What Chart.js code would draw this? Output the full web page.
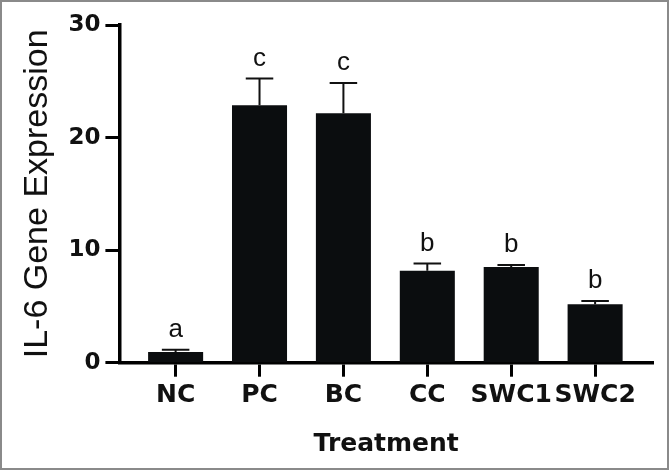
<!DOCTYPE html>
<html>
<head>
<meta charset="utf-8">
<script src="https://cdn.jsdelivr.net/npm/chart.js@4"></script>
<style>
    body { margin: 0; background: #fff; }
    #wrap { position: relative; width: 669px; height: 470px; }
    #frame { position: absolute; left: 0; top: 0; width: 665px; height: 466px; border: 2px solid #8a8a8a; pointer-events: none; }
</style>
</head>
<body>
<div id="wrap">
    <canvas id="il6Chart" width="669" height="470"></canvas>
    <div id="frame"></div>
</div>
<script>
// Данные графика
const categories = ['NC', 'PC', 'BC', 'CC', 'SWC1', 'SWC2'];
const values = [0.96, 22.88, 22.17, 8.16, 8.51, 5.19];
const errors = [0.2, 2.36, 2.68, 0.65, 0.18, 0.29];
const letters = ['a', 'c', 'c', 'b', 'b', 'b'];
const yTicks = [0, 10, 20, 30];

// Плагин для планок погрешностей и букв над столбцами
const errorBarsPlugin = {
    id: 'errorBars',
    afterDatasetsDraw(chart) {
        const ctx = chart.ctx;
        const meta = chart.getDatasetMeta(0);
        const yScale = chart.scales.y;
        ctx.save();
        meta.data.forEach((bar, i) => {
            const yTop = yScale.getPixelForValue(values[i]);
            const yErr = yScale.getPixelForValue(values[i] + errors[i]);
            const half = bar.width / 4;
            ctx.strokeStyle = '#111';
            ctx.lineWidth = 2;
            ctx.beginPath();
            ctx.moveTo(bar.x, yTop);
            ctx.lineTo(bar.x, yErr);
            ctx.moveTo(bar.x - half, yErr);
            ctx.lineTo(bar.x + half, yErr);
            ctx.stroke();
            ctx.fillStyle = '#111';
            ctx.font = '26px "Liberation Sans", Arial, sans-serif';
            ctx.textAlign = 'center';
            ctx.textBaseline = 'alphabetic';
            ctx.fillText(letters[i], bar.x, yErr - 13);
        });
        ctx.restore();
    }
};

document.addEventListener('DOMContentLoaded', function() {
    const ctx = document.getElementById('il6Chart');
    new Chart(ctx, {
        type: 'bar',
        data: {
            datasets: [{
                data: categories.map((c, i) => ({ x: i, y: values[i] })),
                backgroundColor: '#0b0d0f',
                borderWidth: 0,
                categoryPercentage: 1,
                barPercentage: 0.656
            }]
        },
        options: {
            responsive: false,
            animation: false,
            layout: { padding: { left: 0, right: 16, top: 25, bottom: 0 } },
            plugins: {
                legend: { display: false },
                tooltip: { enabled: false }
            },
            scales: {
                x: {
                    type: 'linear',
                    min: -0.67,
                    max: 5.69,
                    offset: false,
                    afterBuildTicks: axis => {
                        axis.ticks = categories.map((c, i) => ({ value: i }));
                    },
                    border: { display: true, color: '#000', width: 3.5 },
                    grid: {
                        offset: false,
                        drawOnChartArea: false,
                        drawTicks: true,
                        tickLength: 14,
                        tickWidth: 3,
                        tickColor: '#000'
                    },
                    ticks: {
                        autoSkip: false,
                        maxRotation: 0,
                        padding: 4,
                        color: '#111',
                        font: { family: '"DejaVu Sans"', size: 25, weight: 'bold' },
                        callback: v => categories[v]
                    },
                    title: {
                        display: true,
                        text: 'Treatment',
                        color: '#111',
                        font: { family: '"DejaVu Sans"', size: 25, weight: 'bold' },
                        padding: { top: 14.3, bottom: 11 }
                    }
                },
                y: {
                    min: 0,
                    max: 30,
                    afterBuildTicks: axis => {
                        axis.ticks = yTicks.map(v => ({ value: v }));
                    },
                    border: { display: true, color: '#000', width: 3.5 },
                    grid: {
                        drawOnChartArea: false,
                        drawTicks: true,
                        tickLength: 14,
                        tickWidth: 3,
                        tickColor: '#000'
                    },
                    ticks: {
                        padding: 5,
                        color: '#111',
                        font: { family: '"DejaVu Sans"', size: 23, weight: 'bold' }
                    },
                    title: {
                        display: true,
                        text: 'IL-6 Gene Expression',
                        color: '#111',
                        font: { family: '"Liberation Sans"', size: 34 },
                        padding: { top: 17, bottom: 5.6 }
                    }
                }
            }
        },
        plugins: [errorBarsPlugin]
    });
});
</script>
</body>
</html>
